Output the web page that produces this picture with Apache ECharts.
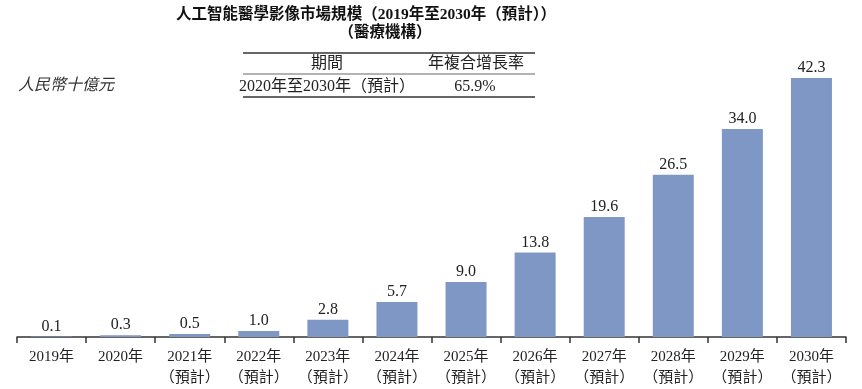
<!DOCTYPE html>
<html>
<head>
<meta charset="utf-8">
<script src="https://cdn.jsdelivr.net/npm/echarts@6/dist/echarts.min.js"></script>
<style>html,body{margin:0;padding:0;background:#fff;}#c{width:862px;height:389px;}</style>
</head>
<body>
<div id="c"></div>
<script>
const categories = ['2019年','2020年','2021年\n（預計）','2022年\n（預計）','2023年\n（預計）','2024年\n（預計）','2025年\n（預計）','2026年\n（預計）','2027年\n（預計）','2028年\n（預計）','2029年\n（預計）','2030年\n（預計）'];
const values = [0.1,0.3,0.5,1.0,2.8,5.7,9.0,13.8,19.6,26.5,34.0,42.3];
const titleLine1 = '人工智能醫學影像市場規模（2019年至2030年（預計））';
const titleLine2 = '（醫療機構）';
const tableHeader = ['期間','年複合增長率'];
const tableRow = ['2020年至2030年（預計）','65.9%'];
const unitLabel = '人民幣十億元';

const FONT = '"Liberation Serif","Noto Sans CJK TC",serif';
const chart = echarts.init(document.getElementById('c'));
chart.setOption({
  animation:false,
  grid:{left:17,right:16,top:31,bottom:52},
  xAxis:{
    type:'category', data:categories,
    axisLine:{lineStyle:{color:'#333',width:1.5}},
    axisTick:{show:true,length:6,lineStyle:{color:'#333',width:1.5}},
    axisLabel:{color:'#222',fontFamily:FONT,fontSize:15,lineHeight:21,margin:10,interval:0}
  },
  yAxis:{type:'value',min:0,max:50,show:false,splitLine:{show:false}},
  series:[{
    type:'bar', data:values, barWidth:41,
    itemStyle:{color:'#7e97c5'},
    label:{show:true,position:'top',distance:2,color:'#222',fontFamily:FONT,fontSize:16,
      formatter:p=>p.value.toFixed(1)}
  }],
  graphic:[
    {type:'text',x:366,y:15,style:{text:titleLine1,font:'bold 15.5px '+FONT,fill:'#111',align:'center',verticalAlign:'middle'}},
    {type:'text',x:385,y:33,style:{text:titleLine2,font:'bold 15.5px '+FONT,fill:'#111',align:'center',verticalAlign:'middle'}},
    {type:'line',shape:{x1:243,y1:53,x2:535,y2:53},style:{stroke:'#666',lineWidth:2}},
    {type:'line',shape:{x1:243,y1:74,x2:535,y2:74},style:{stroke:'#666',lineWidth:1}},
    {type:'line',shape:{x1:243,y1:97,x2:535,y2:97},style:{stroke:'#666',lineWidth:2}},
    {type:'text',x:327,y:64,style:{text:tableHeader[0],font:'16px '+FONT,fill:'#222',align:'center',verticalAlign:'middle'}},
    {type:'text',x:476,y:64,style:{text:tableHeader[1],font:'16px '+FONT,fill:'#222',align:'center',verticalAlign:'middle'}},
    {type:'text',x:327,y:87,style:{text:tableRow[0],font:'16px '+FONT,fill:'#222',align:'center',verticalAlign:'middle'}},
    {type:'text',x:475,y:87,style:{text:tableRow[1],font:'16px '+FONT,fill:'#222',align:'center',verticalAlign:'middle'}},
    {type:'text',x:18,y:86,style:{text:unitLabel,font:'italic 16px '+FONT,fill:'#333',verticalAlign:'middle'}}
  ]
});
</script>
</body>
</html>
